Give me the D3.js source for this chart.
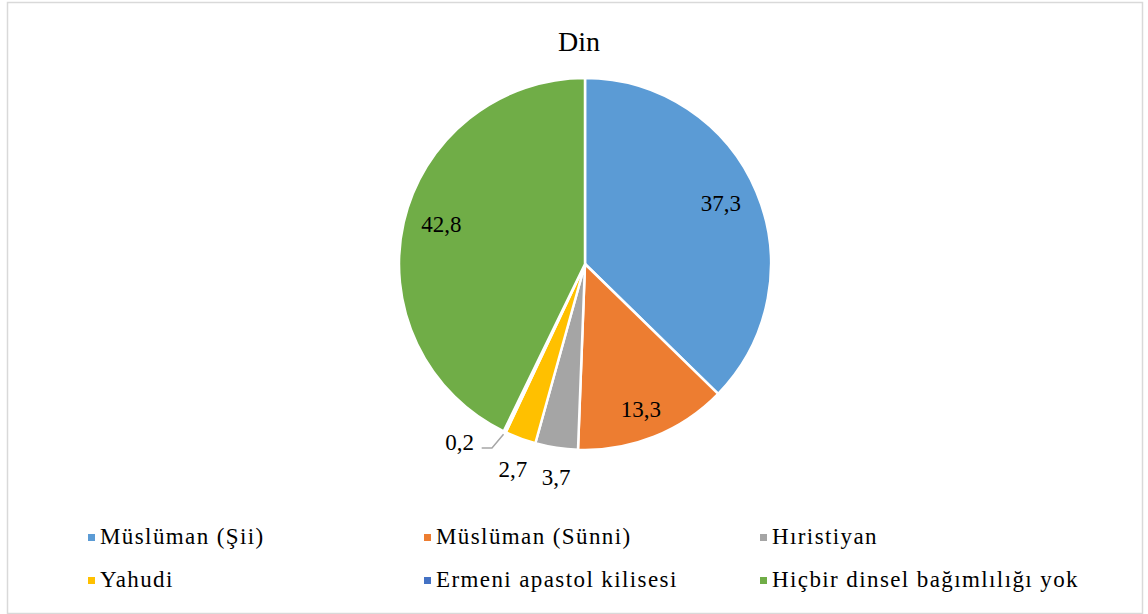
<!DOCTYPE html>
<html>
<head>
<meta charset="utf-8">
<script src="https://cdn.jsdelivr.net/npm/d3@7"></script>
<style>
  body { margin: 0; background: #fff; }
  text { font-family: "Liberation Serif", "Times New Roman", serif; fill: #000; }
</style>
</head>
<body>
<svg id="chart"></svg>
<script>
const width = 1148
const height = 614

const categories = [
    'Müslüman (Şii)',
    'Müslüman (Sünni)',
    'Hıristiyan',
    'Yahudi',
    'Ermeni apastol kilisesi',
    'Hiçbir dinsel bağımlılığı yok'
]
const values = [37.3, 13.3, 3.7, 2.7, 0.2, 42.8]
const labels = ['37,3', '13,3', '3,7', '2,7', '0,2', '42,8']
const colors = ['#5B9BD5', '#ED7D31', '#A5A5A5', '#FFC000', '#4472C4', '#70AD47']

// label placement: [radius factor, angle shift in degrees]
const placement = [[0.80, -1.3], [0.84, 0.8], [1.16, -1.1], [1.17, -1], [1.17, 9.6], [0.80, 2.3]]

const cx = 585, cy = 264, r = 186

const svg = d3.select('#chart')
    .attr('width', width)
    .attr('height', height)

svg.append('rect')
    .attr('x', 7.5).attr('y', 2.5)
    .attr('width', 1135).attr('height', 611)
    .attr('fill', '#fff')
    .attr('stroke', '#d9d9d9')
    .attr('stroke-width', 1.5)

svg.append('text')
    .attr('x', cx - 6)
    .attr('y', 51)
    .attr('text-anchor', 'middle')
    .attr('font-size', 28)
    .text('Din')

const data = categories.map((c, i) => ({ name: c, value: values[i], label: labels[i], i: i }))

const pie = d3.pie().sort(null).value(d => d.value)
const arcs = pie(data)
const arc = d3.arc().innerRadius(0).outerRadius(r)

const g = svg.append('g').attr('transform', `translate(${cx},${cy})`)

g.selectAll('path.slice')
    .data(arcs)
    .join('path')
    .attr('class', 'slice')
    .attr('d', arc)
    .attr('fill', d => colors[d.data.i])
    .attr('stroke', '#fff')
    .attr('stroke-width', 2.5)
    .attr('stroke-linejoin', 'round')

function labelPos(d) {
    const p = placement[d.data.i]
    const a = (d.startAngle + d.endAngle) / 2 + p[1] * Math.PI / 180
    return [Math.sin(a) * r * p[0], -Math.cos(a) * r * p[0]]
}

g.selectAll('text.lbl')
    .data(arcs)
    .join('text')
    .attr('class', 'lbl')
    .attr('x', d => labelPos(d)[0])
    .attr('y', d => labelPos(d)[1])
    .attr('dy', '0.33em')
    .attr('text-anchor', 'middle')
    .attr('font-size', 23)
    .text(d => d.data.label)

// leader line for the tiny slice
const tiny = arcs.filter(d => d.data.i === 4)
g.selectAll('path.leader')
    .data(tiny)
    .join('path')
    .attr('class', 'leader')
    .attr('fill', 'none')
    .attr('stroke', '#a6a6a6')
    .attr('stroke-width', 1.5)
    .attr('d', d => {
        const a = (d.startAngle + d.endAngle) / 2
        const x0 = Math.sin(a) * r * 1.015, y0 = -Math.cos(a) * r * 1.015
        const lp = labelPos(d)
        const y1 = lp[1] + 6
        const x1 = x0 - (y1 - y0) * 0.85
        return `M${x0},${y0}L${x1},${y1}L${lp[0] + 22},${y1}`
    })

// legend
const legend = svg.append('g')
const colW = 336
legend.selectAll('g.item')
    .data(data)
    .join('g')
    .attr('class', 'item')
    .attr('transform', d => `translate(${88 + (d.i % 3) * colW},${544 + Math.floor(d.i / 3) * 43})`)
    .call(it => {
        it.append('rect')
            .attr('x', 0).attr('y', -10)
            .attr('width', 7).attr('height', 7)
            .attr('fill', d => colors[d.i])
        it.append('text')
            .attr('x', 12)
            .attr('font-size', 23)
            .attr('letter-spacing', 1.4)
            .text(d => d.name)
    })
</script>
</body>
</html>
